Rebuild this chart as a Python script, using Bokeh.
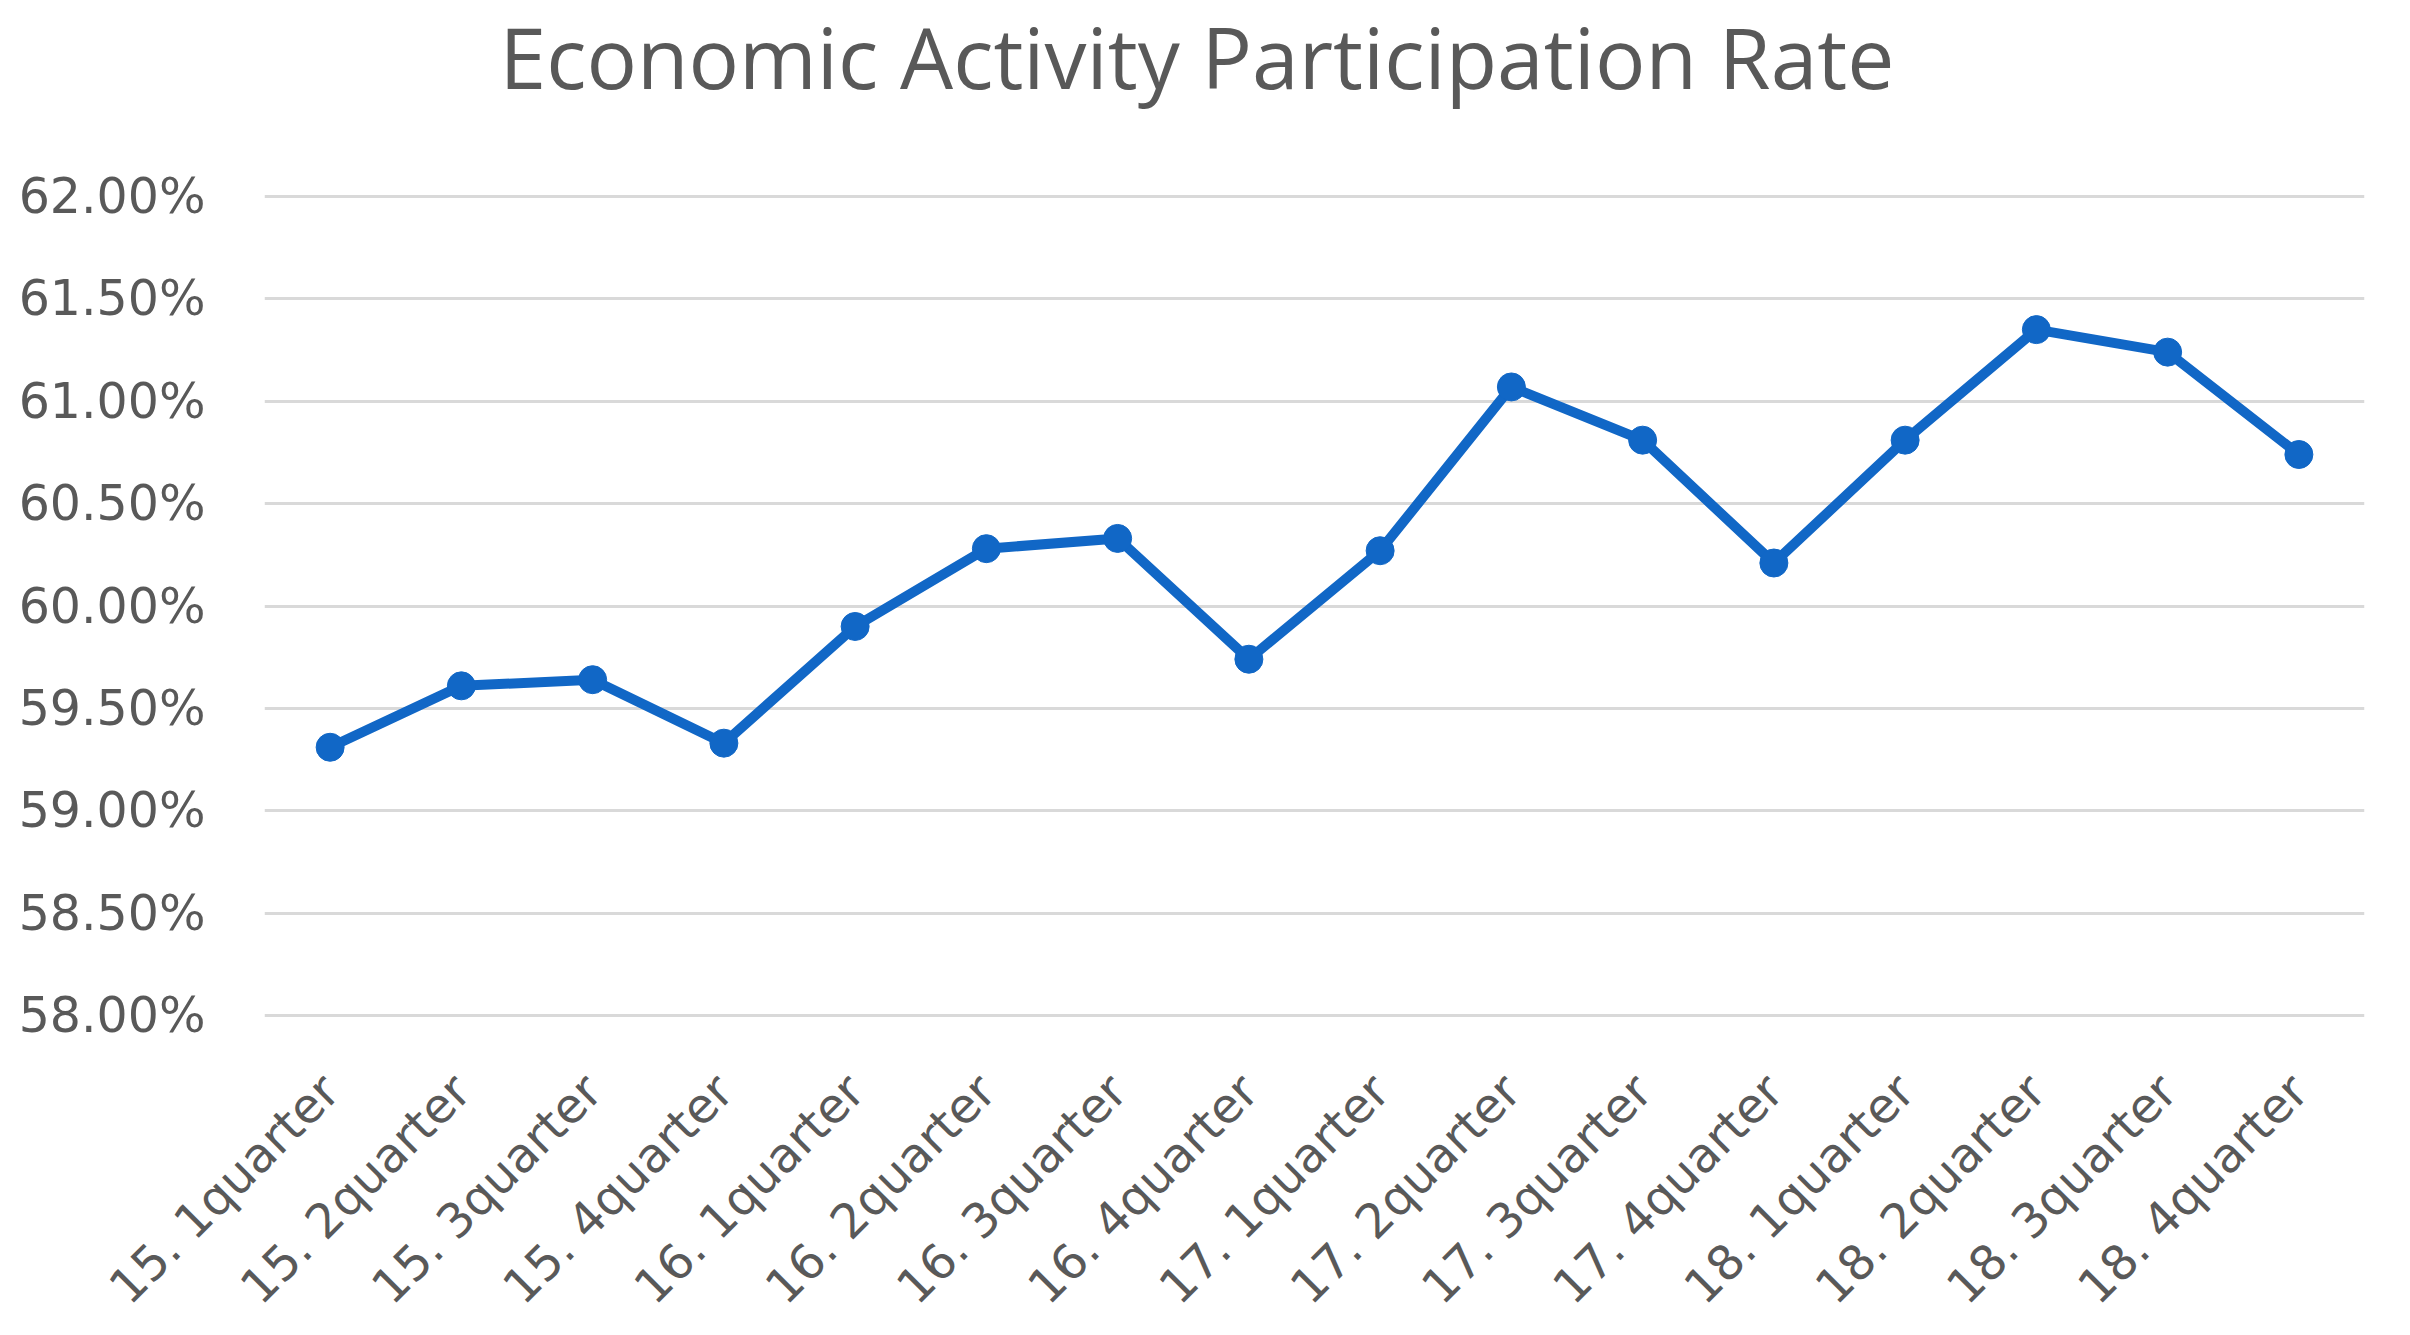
import math
from bokeh.plotting import figure
from bokeh.layouts import column
from bokeh.models import FactorRange, Range1d, FixedTicker, PrintfTickFormatter, Div
from bokeh.embed import file_html
from bokeh.resources import INLINE

title_text = "Economic Activity Participation Rate"
quarters = ["15. 1quarter", "15. 2quarter", "15. 3quarter", "15. 4quarter",
            "16. 1quarter", "16. 2quarter", "16. 3quarter", "16. 4quarter",
            "17. 1quarter", "17. 2quarter", "17. 3quarter", "17. 4quarter",
            "18. 1quarter", "18. 2quarter", "18. 3quarter", "18. 4quarter"]
rates = [59.31, 59.61, 59.64, 59.33,
         59.90, 60.28, 60.33, 59.74,
         60.27, 61.07, 60.81, 60.21,
         60.81, 61.35, 61.24, 60.74]
y_ticks = [58.0, 58.5, 59.0, 59.5, 60.0, 60.5, 61.0, 61.5, 62.0]

TEXT = "#595959"
BLUE = "#1167C6"

title = Div(text=title_text, width=2394, height=114, margin=0,
            styles={"font-family": "Open Sans", "font-size": "84px", "color": TEXT,
                    "text-align": "center", "line-height": "114px", "width": "2394px",
                    "white-space": "nowrap"})

p = figure(x_range=FactorRange(factors=quarters, range_padding=0),
           y_range=Range1d(57.99, 62.01),
           frame_width=2100, frame_height=823,
           output_backend="svg", toolbar_location=None,
           min_border_left=264, min_border_right=30, min_border_top=80, min_border_bottom=302)

p.outline_line_color = None
p.xgrid.grid_line_color = None
p.ygrid.grid_line_color = "#D9D9D9"
p.ygrid.grid_line_width = 3

p.yaxis.ticker = FixedTicker(ticks=y_ticks)
p.yaxis.formatter = PrintfTickFormatter(format="%.2f%%")
p.yaxis.axis_line_color = None
p.yaxis.major_tick_line_color = None
p.yaxis.minor_tick_line_color = None
p.yaxis.major_tick_out = 0
p.yaxis.major_tick_in = 0
p.yaxis.major_label_text_font = "DejaVu Sans"
p.yaxis.major_label_text_font_size = "49px"
p.yaxis.major_label_text_color = TEXT
p.yaxis.major_label_standoff = 59

p.xaxis.axis_line_color = None
p.xaxis.major_tick_line_color = None
p.xaxis.minor_tick_line_color = None
p.xaxis.major_tick_out = 0
p.xaxis.major_tick_in = 0
p.xaxis.major_label_orientation = math.pi / 4
p.xaxis.major_label_text_font = "DejaVu Sans"
p.xaxis.major_label_text_font_size = "48px"
p.xaxis.major_label_text_color = TEXT
p.xaxis.major_label_standoff = 65

p.line(quarters, rates, line_color=BLUE, line_width=10, line_join="round")
p.scatter(quarters, rates, size=28, fill_color=BLUE, line_color=BLUE)

layout = column(title, p, spacing=0, margin=0)
open("out.html", "w").write(file_html(layout, INLINE))
